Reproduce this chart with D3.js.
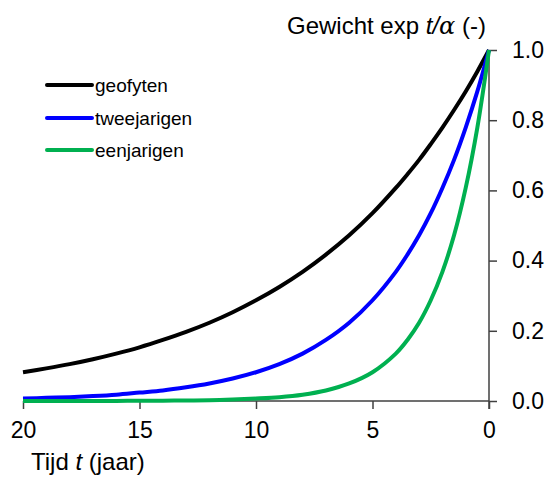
<!DOCTYPE html>
<html><head><meta charset="utf-8">
<script src="https://cdn.jsdelivr.net/npm/d3@7"></script>
<style>
body{margin:0;background:#fff;}
text{font-family:Arial,"Liberation Sans",sans-serif;fill:#000;}
</style></head>
<body><svg id="c" width="545" height="478"></svg>
<script>
const tValues = [0,0.5,1,1.5,2,2.5,3,3.5,4,5,6,7,8,9,10,11,12,13,14,15,16,17,18,19,20];
const geofyten = [1,0.939,0.882,0.829,0.779,0.732,0.687,0.646,0.607,0.535,0.472,0.417,0.368,0.325,0.287,0.253,0.223,0.197,0.174,0.153,0.135,0.119,0.105,0.093,0.082];
const tweejarigen = [1,0.882,0.779,0.687,0.607,0.535,0.472,0.417,0.368,0.287,0.223,0.174,0.135,0.105,0.082,0.064,0.050,0.039,0.030,0.024,0.018,0.014,0.011,0.009,0.007];
const eenjarigen = [1,0.779,0.607,0.472,0.368,0.287,0.223,0.174,0.135,0.082,0.050,0.030,0.018,0.011,0.007,0.004,0.002,0.0015,0.001,0.0006,0.0003,0.0002,0.0001,0.0001,0];
const seriesNames = ["geofyten","tweejarigen","eenjarigen"];
const seriesColors = ["#000000","#0000ff","#00b050"];
const xTicks = [20,15,10,5,0];
const yTicks = [0,0.2,0.4,0.6,0.8,1.0];

const svg = d3.select("#c");
const x = d3.scaleLinear().domain([20,0]).range([23,489]);
const y = d3.scaleLinear().domain([0,1]).range([401,50]);

const allSeries = [geofyten,tweejarigen,eenjarigen];

// axes
const xAxis = svg.append("g").attr("transform","translate(0,401)")
  .call(d3.axisBottom(x).tickValues(xTicks).tickFormat(d3.format("d")).tickSize(8).tickPadding(13));
const yAxis = svg.append("g").attr("transform","translate(489,0)")
  .call(d3.axisRight(y).tickValues(yTicks).tickFormat(d3.format(".1f")).tickSize(8).tickPadding(15));
[xAxis,yAxis].forEach(a=>{
  a.select(".domain").attr("stroke","#404040").attr("stroke-width",1.5);
  a.selectAll(".tick line").attr("stroke","#404040").attr("stroke-width",1.5);
  a.selectAll(".tick text").style("font-size","23px").attr("fill","#000");
});
xAxis.select(".domain").attr("d","M23,0H489");
yAxis.select(".domain").attr("d","M0,50V409");

// lines
const line = d3.line().x((d,i)=>x(tValues[i])).y(d=>y(d)).curve(d3.curveCatmullRom);
allSeries.forEach((s,k)=>{
  svg.append("path").datum(s).attr("d",line).attr("fill","none")
    .attr("stroke",seriesColors[k]).attr("stroke-width",4).attr("stroke-linejoin","round");
});

// legend
const legY = [85,118,150];
seriesNames.forEach((n,k)=>{
  svg.append("line").attr("x1",47).attr("x2",92).attr("y1",legY[k]).attr("y2",legY[k])
    .attr("stroke",seriesColors[k]).attr("stroke-width",4).attr("stroke-linecap","round");
  svg.append("text").attr("x",95).attr("y",legY[k]).attr("dy","0.35em")
    .style("font-size","19px").text(n);
});

// titles
const title = svg.append("text").attr("x",287).attr("y",34).style("font-size","24px");
title.append("tspan").text("Gewicht exp ");
title.append("tspan").style("font-style","italic").text("t/");
title.append("tspan").style("font-style","italic").style("font-family","'DejaVu Serif',serif").text("α");
title.append("tspan").text(" (-)");

const xl = svg.append("text").attr("x",31).attr("y",470).style("font-size","24px");
xl.append("tspan").text("Tijd ");
xl.append("tspan").style("font-style","italic").text("t");
xl.append("tspan").text(" (jaar)");
</script></body></html>
